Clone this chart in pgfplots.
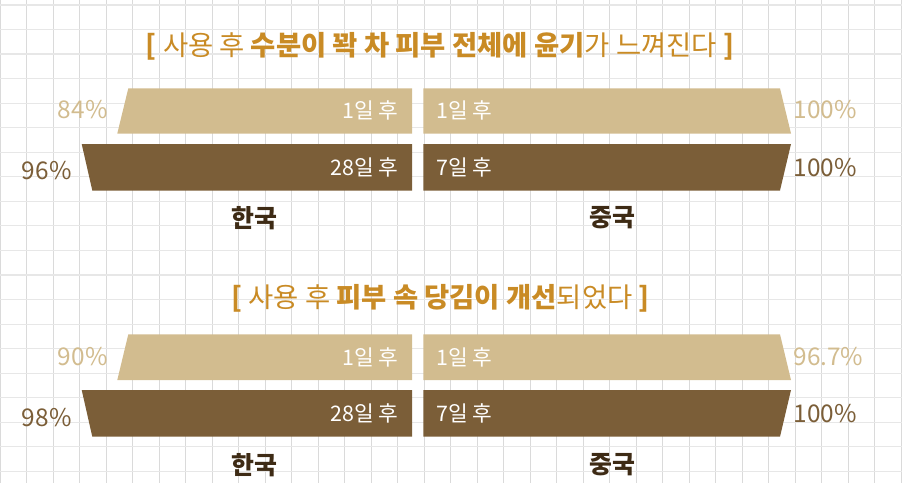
\documentclass[border=0pt]{standalone}
\usepackage{fontspec}
\setmainfont{Noto Sans CJK KR}
\usepackage{pgfplots}
\pgfplotsset{compat=1.18}

\definecolor{lightbar}{HTML}{D2BC8F}
\definecolor{darkbar}{HTML}{7B5E38}
\definecolor{titlec}{HTML}{C98B25}
\definecolor{catc}{HTML}{3E2B15}
\definecolor{gridv}{HTML}{DADADA}
\definecolor{gridh}{HTML}{E7E7E7}

\newcommand{\pct}{\fontsize{24.5}{28}\selectfont}
\newcommand{\bartxt}{\fontsize{21.5}{25}\selectfont}
\newcommand{\cat}{\fontsize{25}{29}\selectfont\bfseries}
\newcommand{\ttl}{\fontsize{27.5}{31}\selectfont}

\begin{document}
\begin{tikzpicture}
\begin{axis}[
    width=902bp, height=483bp, scale only axis,
    xmin=0, xmax=902, ymin=0, ymax=483, y dir=reverse,
    axis line style={draw=none},
    xtick={0,26.5,...,902}, ytick={4.95,29.5,...,483},
    xticklabels={}, yticklabels={}, major tick length=0,
    grid=major,
    x grid style={color=gridv, line width=0.8pt},
    y grid style={color=gridh, line width=1.2pt},
    clip=false,
]

% --- section 1: bars (pixel geometry)
\addplot[fill=lightbar, draw=none] coordinates {(128.3,88.3) (412,88.3) (412,133.5) (117.3,133.5)};
\addplot[fill=darkbar, draw=none] coordinates {(81.7,144) (412,144) (412,190.5) (92.3,190.5)};
\addplot[fill=lightbar, draw=none] coordinates {(423.3,88.3) (780,88.3) (791,133.5) (423.3,133.5)};
\addplot[fill=darkbar, draw=none] coordinates {(423.3,144) (791,144) (780,190.5) (423.3,190.5)};

% --- section 2
\addplot[fill=lightbar, draw=none] coordinates {(128.3,334.3) (412,334.3) (412,380) (117.3,380)};
\addplot[fill=darkbar, draw=none] coordinates {(81.7,390) (412,390) (412,436.7) (92.3,436.7)};
\addplot[fill=lightbar, draw=none] coordinates {(423.3,334.3) (780,334.3) (791,380) (423.3,380)};
\addplot[fill=darkbar, draw=none] coordinates {(423.3,390) (791,390) (780,436.7) (423.3,436.7)};

% titles
\node[text=titlec, font=\ttl] at (axis cs:440,46.5)
  {{\bfseries [}\ 사용 후 {\bfseries 수분이 꽉 차 피부 전체에 윤기}가 느껴진다 {\bfseries ]}};
\node[text=titlec, font=\ttl] at (axis cs:440.5,298)
  {{\bfseries [}\ 사용 후 {\bfseries 피부 속 당김이 개선}되었다 {\bfseries ]}};

% percent labels
\node[anchor=east, text=lightbar, font=\pct] at (axis cs:111,110) {84\%};
\node[anchor=east, text=darkbar, font=\pct] at (axis cs:75,171) {96\%};
\node[anchor=west, text=lightbar, font=\pct] at (axis cs:790,110) {100\%};
\node[anchor=west, text=darkbar, font=\pct] at (axis cs:790,168) {100\%};
\node[anchor=east, text=lightbar, font=\pct] at (axis cs:111,357) {90\%};
\node[anchor=east, text=darkbar, font=\pct] at (axis cs:75,418) {98\%};
\node[anchor=west, text=lightbar, font=\pct] at (axis cs:790,357) {96.7\%};
\node[anchor=west, text=darkbar, font=\pct] at (axis cs:790,414) {100\%};

% bar texts
\node[anchor=east, text=white, font=\bartxt] at (axis cs:402,110) {1일 후};
\node[anchor=east, text=white, font=\bartxt] at (axis cs:402,167) {28일 후};
\node[anchor=west, text=white, font=\bartxt] at (axis cs:433,110) {1일 후};
\node[anchor=west, text=white, font=\bartxt] at (axis cs:433,167) {7일 후};
\node[anchor=east, text=white, font=\bartxt] at (axis cs:402,357) {1일 후};
\node[anchor=east, text=white, font=\bartxt] at (axis cs:402,413) {28일 후};
\node[anchor=west, text=white, font=\bartxt] at (axis cs:433,357) {1일 후};
\node[anchor=west, text=white, font=\bartxt] at (axis cs:433,413) {7일 후};

% categories
\node[text=catc, font=\cat] at (axis cs:254,218) {한국};
\node[text=catc, font=\cat] at (axis cs:612.5,218) {중국};
\node[text=catc, font=\cat] at (axis cs:254,465) {한국};
\node[text=catc, font=\cat] at (axis cs:612.5,465) {중국};

\end{axis}
\pgfresetboundingbox
\useasboundingbox (current axis.south west) rectangle (current axis.north east);
\end{tikzpicture}
\end{document}
